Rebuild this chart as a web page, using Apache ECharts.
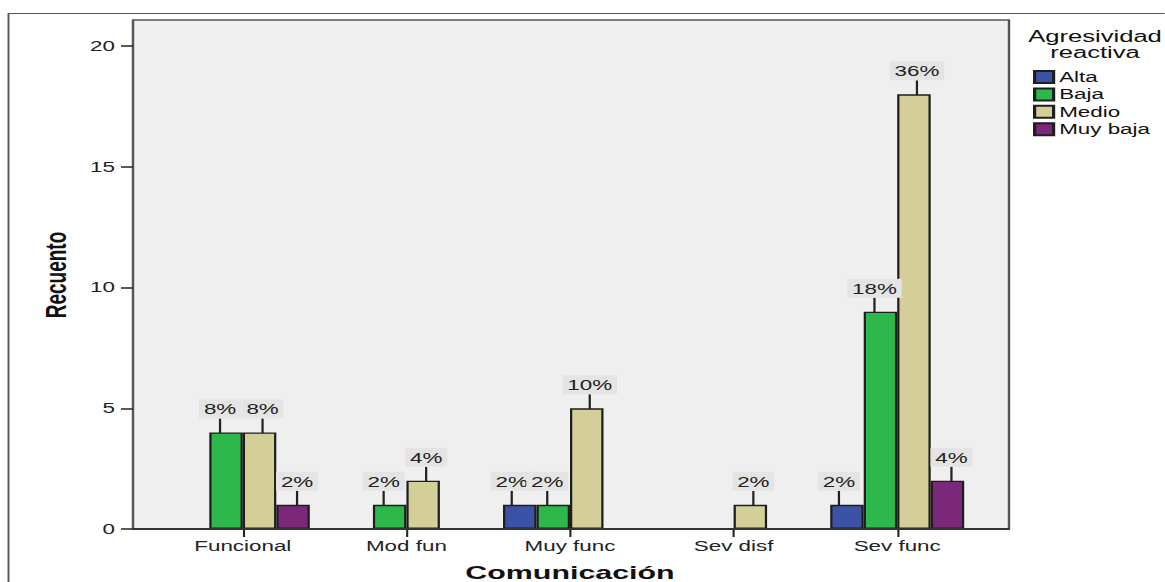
<!DOCTYPE html>
<html>
<head>
<meta charset="utf-8">
<script src="https://cdn.jsdelivr.net/npm/echarts@6/dist/echarts.min.js"></script>
<style>
html,body{margin:0;padding:0;background:#fff;overflow:hidden;width:1165px;height:582px;}
/* the reference picture is stretched horizontally (~1.6x); reproduce that */
#c{width:728px;height:582px;transform:scaleX(1.6);transform-origin:0 0;}
</style>
</head>
<body>
<div id="c"></div>
<script>
const categories = ['Funcional', 'Mod fun', 'Muy func', 'Sev disf', 'Sev func'];
const seriesNames = ['Alta', 'Baja', 'Medio', 'Muy baja'];
const alta    = [0, 0, 1, 0, 1];
const baja    = [4, 1, 1, 0, 9];
const medio   = [4, 2, 5, 1, 18];
const muyBaja = [1, 0, 0, 0, 2];
const yTicks = [0, 5, 10, 15, 20];

const colors = ['#3b52a6', '#2eb84b', '#d4cf98', '#7b287b'];
const seriesValues = [alta, baja, medio, muyBaja];
const total = seriesValues.flat().reduce((a, b) => a + b, 0);

const FONT = '"Liberation Sans", Arial, sans-serif';
const S = 1.6; // horizontal stretch factor
// small horizontal nudge of each series' labels (screen px), as in the reference
const labelNudge = [-8, -6, 3, 4];

const chart = echarts.init(document.getElementById('c'), null, {renderer: 'svg'});

const series = seriesNames.map((name, i) => ({
  name: name,
  type: 'bar',
  barWidth: 33.5 / S,
  barGap: '0%',
  data: seriesValues[i].map(v => v === 0 ? null : v),
  itemStyle: {color: colors[i], borderColor: '#1e1e1e', borderWidth: 1.4},
  z: 3,
  label: {
    show: true,
    position: 'top',
    distance: 4,
    formatter: p => Math.round(p.value / total * 100) + '%',
    fontFamily: FONT,
    fontSize: 14,
    color: '#222',
    backgroundColor: '#e4e4e4',
    padding: [3, 3, 2, 3]
  },
  labelLayout: {dy: -10, dx: labelNudge[i] / S, moveOverlap: 'shiftY'},
  labelLine: {show: true, lineStyle: {color: '#222', width: 1.4}},
  emphasis: {disabled: true}
}));

const plotL = 133 / S, plotR = 1009 / S;

const option = {
  animation: false,
  backgroundColor: '#fff',
  grid: {left: 161 / S, right: 728 - 979 / S, top: 46, bottom: 53, outerBoundsMode: 'none', containLabel: false},
  legend: {
    orient: 'vertical',
    left: 1033 / S,
    top: 70,
    padding: 0,
    itemWidth: 19 / S,
    itemHeight: 12,
    itemGap: 3.4,
    icon: 'rect',
    data: seriesNames,
    textStyle: {fontFamily: FONT, fontSize: 14, color: '#111', padding: [0, 0, 0, -1.5]},
    selectedMode: false
  },
  xAxis: {
    type: 'category',
    data: categories,
    axisLine: {show: false},
    axisTick: {show: true, alignWithLabel: true, length: 8, lineStyle: {color: '#222', width: 1.3}},
    axisLabel: {fontFamily: FONT, fontSize: 14, color: '#222', margin: 10},
    name: 'Comunicación',
    nameLocation: 'middle',
    nameGap: 34,
    nameTextStyle: {fontFamily: FONT, fontSize: 19, fontWeight: 'bold', color: '#111'}
  },
  yAxis: {
    type: 'value',
    min: yTicks[0],
    max: yTicks[yTicks.length - 1],
    interval: 5,
    offset: 161 / S - plotL,
    splitLine: {show: false},
    axisLine: {show: false},
    axisTick: {show: true, length: 12 / S, lineStyle: {color: '#222', width: 1.5}},
    axisLabel: {fontFamily: FONT, fontSize: 14, color: '#222', margin: 18 / S}
  },
  graphic: [
    {type: 'polyline', shape: {points: [[8.5 / S, 582], [8.5 / S, 13.5], [728, 13.5]]}, style: {stroke: '#555', lineWidth: 1.2, fill: null}, z: 0, silent: true},
    {type: 'rect', shape: {x: plotL, y: 20, width: plotR - plotL, height: 509}, style: {fill: '#efefef', stroke: '#555', lineWidth: 1.5}, z: 0, silent: true},
    {type: 'line', shape: {x1: plotL - 0.5, y1: 529, x2: plotR + 0.5, y2: 529}, style: {stroke: '#333', lineWidth: 2}, z: 10, silent: true},
    {type: 'text', x: 55 / S, y: 275, rotation: Math.PI / 2, style: {text: 'Recuento', fontFamily: FONT, fontSize: 19, fontWeight: 'bold', fill: '#111', align: 'center', verticalAlign: 'middle'}, z: 10, silent: true},
    {type: 'text', x: 1095 / S, y: 45, style: {text: 'Agresividad\nreactiva', fontFamily: FONT, fontSize: 16, lineHeight: 16, fill: '#111', align: 'center', verticalAlign: 'middle'}, z: 10, silent: true}
  ],
  series: series
};
chart.setOption(option);
</script>
</body>
</html>
